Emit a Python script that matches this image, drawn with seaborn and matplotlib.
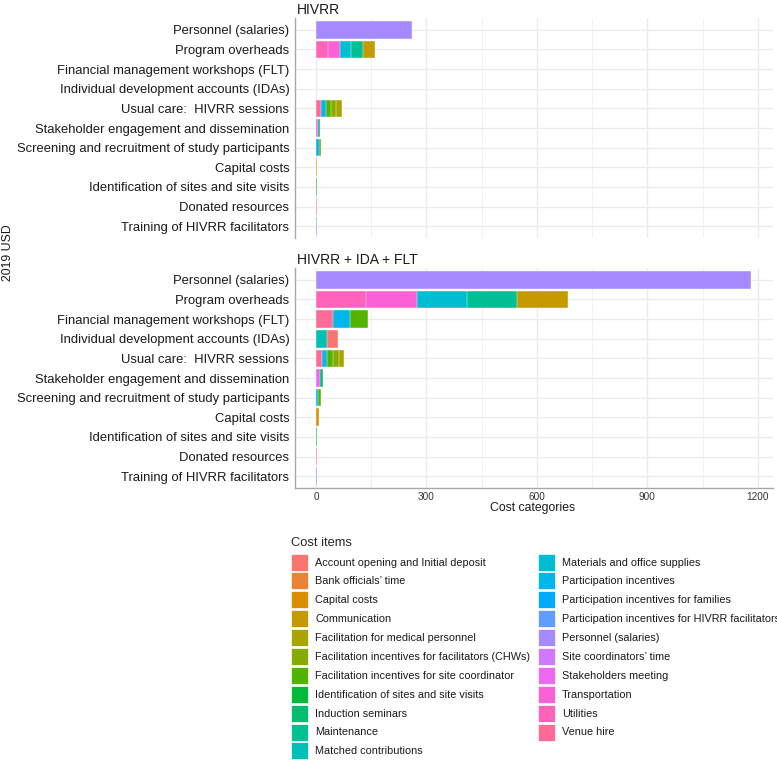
import numpy as np
import pandas as pd
import matplotlib
matplotlib.use("Agg")
import matplotlib.pyplot as plt
from matplotlib.patches import Patch
from matplotlib.ticker import MultipleLocator
import seaborn as sns

# ---------------- data ----------------
categories = [
    "Personnel (salaries)",
    "Program overheads",
    "Financial management workshops (FLT)",
    "Individual development accounts (IDAs)",
    "Usual care:  HIVRR sessions",
    "Stakeholder engagement and dissemination",
    "Screening and recruitment of study participants",
    "Capital costs",
    "Identification of sites and site visits",
    "Donated resources",
    "Training of HIVRR facilitators",
]

cost_items = [
    "Account opening and Initial deposit",
    "Bank officials\u2019 time",
    "Capital costs",
    "Communication",
    "Facilitation for medical personnel",
    "Facilitation incentives for facilitators (CHWs)",
    "Facilitation incentives for site coordinator",
    "Identification of sites and site visits",
    "Induction seminars",
    "Maintenance",
    "Matched contributions",
    "Materials and office supplies",
    "Participation incentives",
    "Participation incentives for families",
    "Participation incentives for HIVRR facilitators",
    "Personnel (salaries)",
    "Site coordinators\u2019 time",
    "Stakeholders meeting",
    "Transportation",
    "Utilities",
    "Venue hire",
]

facets = ["HIVRR", "HIVRR + IDA + FLT"]

seg_category = [
    "Personnel (salaries)",
    "Program overheads", "Program overheads", "Program overheads",
    "Program overheads", "Program overheads",
    "Financial management workshops (FLT)", "Financial management workshops (FLT)",
    "Financial management workshops (FLT)",
    "Individual development accounts (IDAs)", "Individual development accounts (IDAs)",
    "Usual care:  HIVRR sessions", "Usual care:  HIVRR sessions",
    "Usual care:  HIVRR sessions", "Usual care:  HIVRR sessions",
    "Usual care:  HIVRR sessions",
    "Stakeholder engagement and dissemination", "Stakeholder engagement and dissemination",
    "Screening and recruitment of study participants",
    "Screening and recruitment of study participants",
    "Capital costs",
    "Identification of sites and site visits",
    "Donated resources",
    "Training of HIVRR facilitators",
]
seg_item = [
    "Personnel (salaries)",
    "Utilities", "Transportation", "Materials and office supplies",
    "Maintenance", "Communication",
    "Venue hire", "Participation incentives",
    "Facilitation incentives for site coordinator",
    "Matched contributions", "Account opening and Initial deposit",
    "Venue hire", "Participation incentives",
    "Facilitation incentives for site coordinator",
    "Facilitation incentives for facilitators (CHWs)",
    "Facilitation for medical personnel",
    "Stakeholders meeting", "Induction seminars",
    "Participation incentives for families",
    "Facilitation incentives for site coordinator",
    "Capital costs",
    "Identification of sites and site visits",
    "Venue hire",
    "Participation incentives for HIVRR facilitators",
]
hivrr_cost = [261, 32, 32, 32, 32, 32, 0, 0, 0, 0, 0,
              14, 13, 14, 14, 15, 5, 5, 8, 5, 3.5, 1.5, 1.5, 1.5]
combined_cost = [1182, 136, 138, 136, 137, 137, 47, 45, 48, 30, 31,
                 15, 16, 15, 16, 15, 10, 9, 6, 7, 8, 1.5, 1.5, 1.5]
x_ticks = [0, 300, 600, 900, 1200]


# ---------------- ggplot-like hue palette ----------------
def hcl_hex(h, c=100.0, l=65.0):
    hr = np.deg2rad(h)
    U, V = c * np.cos(hr), c * np.sin(hr)
    Y = 100.0 * ((l + 16.0) / 116.0) ** 3
    u = U / (13.0 * l) + 0.1978398
    v = V / (13.0 * l) + 0.4683363
    X = 9.0 * Y * u / (4.0 * v)
    Z = -X / 3.0 - 5.0 * Y + 3.0 * Y / v
    def gt(t):
        return 1.055 * t ** (1 / 2.4) - 0.055 if t > 0.00304 else 12.92 * t
    r = gt((3.240479 * X - 1.537150 * Y - 0.498535 * Z) / 100.0)
    g = gt((-0.969256 * X + 1.875992 * Y + 0.041556 * Z) / 100.0)
    b = gt((0.055648 * X - 0.204043 * Y + 1.057311 * Z) / 100.0)
    return tuple(float(np.clip(x, 0, 1)) for x in (r, g, b))

n = len(cost_items)
hues = np.linspace(15, 375 - 360 / n, n)
palette = {item: hcl_hex(h) for item, h in zip(cost_items, hues)}

# ---------------- figure ----------------
sns.set_theme(style="white")
plt.rcParams["font.family"] = ["Liberation Sans", "DejaVu Sans"]

W, H = 777, 760
fig = plt.figure(figsize=(W / 100, H / 100), dpi=100)

def fx(px):
    return px / W

def fy(py):
    return 1 - py / H

panel_left, panel_right = 295, 773
panel_tops = [18, 268]
panel_h = 220

grid_c = "#EBEBEB"
axis_c = "#A8A8A8"
text_c = "#333333"

axes = []
for fi, facet in enumerate(facets):
    top = panel_tops[fi]
    ax = fig.add_axes([fx(panel_left), fy(top + panel_h),
                       fx(panel_right - panel_left), panel_h / H])
    axes.append(ax)
    values = hivrr_cost if fi == 0 else combined_cost
    df = pd.DataFrame({"category": seg_category, "item": seg_item, "cost": values})
    df = df[df["cost"] > 0].copy()
    # stacking: items in reverse alphabetical order from the left
    rank = {it: i for i, it in enumerate(cost_items[::-1])}
    df["rank"] = df["item"].map(rank)
    df = df.sort_values(["category", "rank"])
    df["cum"] = df.groupby("category")["cost"].cumsum()

    ax.set_axisbelow(True)
    # draw the longest cumulative segments first, shorter over them
    for r in sorted(df["rank"].unique(), reverse=True):
        sub = df[df["rank"] == r]
        item = sub["item"].iloc[0]
        sns.barplot(data=sub, x="cum", y="category", order=categories,
                    orient="h", color=palette[item], saturation=1,
                    width=0.9, errorbar=None, edgecolor="white",
                    linewidth=0.3, ax=ax)

    ax.set_xlim(-57, 1241)
    ax.set_ylim(len(categories) - 0.4, -0.6)
    ax.xaxis.set_major_locator(MultipleLocator(300))
    ax.xaxis.set_minor_locator(MultipleLocator(150))
    ax.grid(True, which="major", color=grid_c, linewidth=1.0)
    ax.grid(True, which="minor", axis="x", color=grid_c, linewidth=0.5)
    ax.set_xlabel("")
    ax.set_ylabel("")
    for s in ["top", "right"]:
        ax.spines[s].set_visible(False)
    ax.spines["left"].set_color(axis_c)
    ax.spines["left"].set_linewidth(1.0)
    if fi == 0:
        ax.spines["bottom"].set_visible(False)
        ax.tick_params(axis="x", which="both", labelbottom=False, length=0)
    else:
        ax.spines["bottom"].set_color(axis_c)
        ax.spines["bottom"].set_linewidth(1.0)
        ax.set_xticks(x_ticks)
        ax.set_xticklabels([str(t) for t in x_ticks])
        ax.tick_params(axis="x", which="both", length=0, pad=3,
                       labelsize=7.2, labelcolor=text_c)
    ax.tick_params(axis="y", length=0, pad=4, labelsize=9.4, labelcolor="#1a1a1a")
    ax.set_yticks(range(len(categories)))
    ax.set_yticklabels(categories)
    ax.set_facecolor("white")
    fig.text(fx(297), fy(top - 8), facet, fontsize=10, ha="left", va="center",
             color="#1a1a1a")

fig.text(fx(533), fy(508), "Cost categories", fontsize=8.8, ha="center",
         va="center", color="#1a1a1a")
fig.text(fx(8), fy(253), "2019 USD", fontsize=8.8, ha="center", va="center",
         rotation=90, color="#1a1a1a")

handles = [Patch(facecolor=palette[it], edgecolor="white", linewidth=0.5)
           for it in cost_items]
leg = fig.legend(handles, cost_items, loc="upper left",
                 bbox_to_anchor=(fx(291), fy(537)), ncol=2, frameon=False,
                 fontsize=7.8, title="Cost items", title_fontsize=9.3,
                 handlelength=1.57, handleheight=2.04, handletextpad=0.65,
                 labelspacing=0.172, columnspacing=0.72, borderpad=0,
                 borderaxespad=0, alignment="left")
leg._legend_box.sep = 3.3
for t in leg.get_texts():
    t.set_color("#1a1a1a")

fig.savefig("out.png", dpi=100, facecolor="white")
